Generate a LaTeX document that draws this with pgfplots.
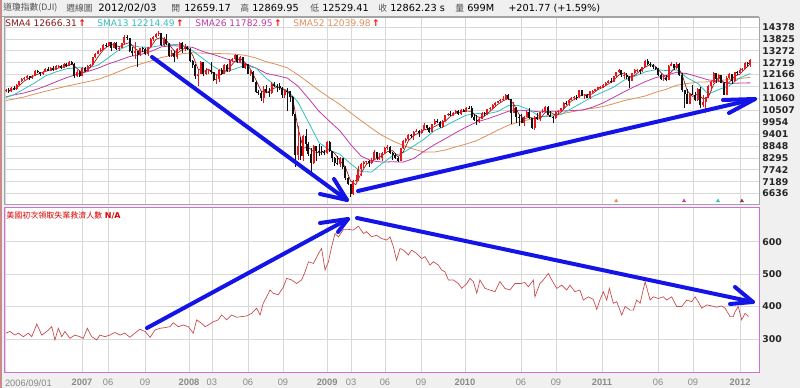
\documentclass[border=0pt]{standalone}
\usepackage{pgfplots}
\usepackage{pgfplotstable}
\pgfplotsset{compat=1.18}
\usepackage{fontspec}
\setmainfont{DejaVu Sans}
\newfontfamily\cjk{Noto Sans CJK TC}
\newfontfamily\lib{Liberation Sans}
\definecolor{bggray}{HTML}{F0F0F0}
\definecolor{gridc}{HTML}{D8D8D8}
\definecolor{upperb}{HTML}{A4A4A4}
\definecolor{lowerb}{HTML}{D070D0}
\definecolor{upc}{HTML}{E8161B}
\definecolor{dnc}{HTML}{111111}
\definecolor{sma4c}{HTML}{8B1A1A}
\definecolor{sma13c}{HTML}{33BFBF}
\definecolor{sma26c}{HTML}{C03CA8}
\definecolor{sma52c}{HTML}{E0905A}
\definecolor{claimc}{HTML}{C8484A}
\definecolor{arrowc}{HTML}{1414E6}
\definecolor{ticklab}{HTML}{8A8A8A}
\definecolor{hdrgray}{HTML}{505050}

\pgfplotstableread{
i o h l c
0 11381 11520 11340 11464
1 11464 11530 11320 11393
2 11393 11610 11360 11560
3 11560 11620 11450 11508
4 11508 11730 11470 11679
5 11679 11880 11650 11851
6 11851 12010 11820 11961
7 11961 12060 11900 12002
8 12002 12160 11960 12090
9 12090 12120 11930 11986
10 11986 12150 11950 12108
11 12108 12360 12090 12342
12 12342 12380 12240 12280
13 12280 12300 12090 12194
14 12194 12340 12150 12307
15 12307 12480 12280 12445
16 12445 12510 12320 12343
17 12343 12510 12330 12463
18 12463 12580 12340 12398
19 12398 12600 12370 12556
20 12556 12620 12480 12565
21 12565 12630 12440 12487
22 12487 12690 12450 12653
23 12653 12700 12530 12580
24 12580 12800 12550 12768
25 12768 12790 12590 12647
26 12647 12700 12030 12114
27 12114 12380 12050 12277
28 12277 12320 12070 12111
29 12111 12520 12090 12481
30 12481 12520 12300 12354
31 12354 12590 12330 12560
32 12560 12650 12480 12612
33 12612 12990 12590 12962
34 12962 13160 12930 13121
35 13121 13290 13100 13265
36 13265 13400 13210 13327
37 13327 13580 13300 13556
38 13556 13630 13470 13508
39 13508 13690 13450 13668
40 13668 13690 13250 13424
41 13424 13700 13380 13640
42 13640 13680 13320 13361
43 13361 13460 13250 13409
44 13409 13650 13380 13612
45 13612 14000 13590 13907
46 13907 14020 13780 13851
47 13851 13880 13230 13266
48 13266 13470 13050 13182
49 13182 13660 12900 13240
50 13240 13280 12520 13079
51 13079 13400 13040 13379
52 13379 13450 13200 13358
53 13358 13420 13080 13114
54 13114 13460 13050 13442
55 13442 13870 13420 13821
56 13821 13940 13750 13896
57 13896 14090 13860 14066
58 14066 14170 13980 14093
59 14093 14100 13500 13522
60 13522 13900 13450 13807
61 13807 14040 13550 13595
62 13595 13640 12990 13043
63 13043 13300 12990 13177
64 13177 13250 12740 12981
65 12981 13400 12890 13372
66 13372 13700 13290 13625
67 13625 13660 13170 13340
68 13340 13590 13260 13450
69 13450 13500 13310 13366
70 13366 13380 12770 12800
71 12800 12850 12490 12606
72 12606 12660 11960 12099
73 12099 12420 11630 12207
74 12207 12800 12180 12743
75 12743 12750 12080 12183
76 12183 12450 12130 12348
77 12348 12440 12180 12381
78 12381 12760 12200 12266
79 12266 12300 11870 11894
80 11894 12180 11750 11951
81 11951 12410 11810 12361
82 12361 12480 12150 12216
83 12216 12650 12180 12610
84 12610 12640 12290 12325
85 12325 12900 12280 12849
86 12849 12950 12760 12891
87 12891 13140 12830 13058
88 13058 13060 12700 12745
89 12745 13030 12710 12986
90 12986 13000 12450 12479
91 12479 12700 12440 12638
92 12638 12660 12180 12210
93 12210 12360 12120 12307
94 12307 12320 11800 11843
95 11843 11860 11330 11347
96 11347 11470 11210 11288
97 11288 11420 10960 11100
98 11100 11630 10830 11496
99 11496 11700 11320 11370
100 11370 11540 11130 11326
101 11326 11810 11280 11734
102 11734 11800 11580 11659
103 11659 11730 11340 11628
104 11628 11790 11450 11543
105 11543 11590 11100 11220
106 11220 11500 11070 11421
107 11421 11530 10460 11388
108 11388 11400 10900 11143
109 11143 11150 10250 10325
110 10325 10330 7880 8451
111 8451 9800 8200 8852
112 8852 9280 8200 8378
113 8378 9380 8170 9325
114 9325 9660 8630 8943
115 8943 9050 8400 8497
116 8497 8760 7450 8046
117 8046 8900 7990 8829
118 8829 8850 8150 8635
119 8635 8920 8400 8630
120 8630 8850 8450 8579
121 8579 8660 8420 8515
122 8515 9070 8480 9034
123 9034 9090 8560 8599
124 8599 8620 8090 8281
125 8281 8340 7910 8077
126 8077 8370 7950 8000
127 8000 8330 7880 8280
128 8280 8290 7800 7850
129 7850 7900 7250 7366
130 7366 7400 7040 7062
131 7062 7070 6470 6627
132 6627 7280 6570 7224
133 7224 7520 7170 7278
134 7278 7930 7240 7776
135 7776 8080 7470 8018
136 8018 8130 7840 8083
137 8083 8170 7960 8131
138 8131 8180 7850 8076
139 8076 8290 7990 8212
140 8212 8650 8190 8575
141 8575 8590 8200 8268
142 8268 8510 8210 8277
143 8277 8560 8160 8500
144 8500 8800 8480 8764
145 8764 8880 8650 8799
146 8799 8830 8490 8539
147 8539 8560 8220 8438
148 8438 8530 8250 8280
149 8280 8330 8090 8146
150 8146 8770 8130 8743
151 8743 9120 8720 9093
152 9093 9200 8990 9172
153 9172 9400 9150 9370
154 9370 9400 9200 9321
155 9321 9550 9140 9506
156 9506 9620 9480 9544
157 9544 9600 9250 9441
158 9441 9640 9400 9605
159 9605 9900 9590 9820
160 9820 9830 9600 9665
161 9665 9730 9440 9488
162 9488 9890 9480 9865
163 9865 10100 9840 9996
164 9996 10120 9900 9972
165 9972 10000 9680 9713
166 9713 10050 9690 10023
167 10023 10290 10010 10270
168 10270 10400 10260 10318
169 10318 10480 10230 10310
170 10310 10420 10240 10389
171 10389 10520 10350 10472
172 10472 10520 10270 10329
173 10329 10550 10310 10521
174 10521 10580 10420 10428
175 10428 10640 10420 10618
176 10618 10730 10560 10610
177 10610 10720 10170 10173
178 10173 10320 10030 10067
179 10067 10270 9830 10012
180 10012 10180 9920 10099
181 10099 10420 10090 10402
182 10402 10430 10230 10325
183 10325 10590 10300 10567
184 10567 10660 10520 10625
185 10625 10780 10590 10742
186 10742 10900 10720 10851
187 10851 10960 10840 10927
188 10927 11040 10890 10997
189 10997 11150 10960 11019
190 11019 11260 11000 11204
191 11204 11260 10980 11009
192 11009 11010 9870 10380
193 10380 10890 10370 10620
194 10620 10670 9920 10193
195 10193 10300 9760 10137
196 10137 10350 9900 9931
197 9931 10240 9760 10212
198 10212 10490 10190 10450
199 10450 10600 10110 10144
200 10144 10160 9650 9686
201 9686 10230 9610 10198
202 10198 10400 10070 10097
203 10097 10450 9990 10425
204 10425 10590 10380 10466
205 10466 10720 10420 10653
206 10653 10700 10270 10303
207 10303 10470 10200 10213
208 10213 10260 9940 10150
209 10150 10460 10090 10448
210 10448 10500 10310 10462
211 10462 10630 10440 10608
212 10608 10890 10580 10860
213 10860 10950 10760 10829
214 10829 11030 10730 11006
215 11006 11120 10980 11063
216 11063 11160 10980 11133
217 11133 11200 10990 11118
218 11118 11450 11100 11444
219 11444 11450 11160 11192
220 11192 11260 11010 11204
221 11204 11260 11070 11092
222 11092 11400 11050 11382
223 11382 11460 11330 11410
224 11410 11520 11370 11492
225 11492 11590 11470 11573
226 11573 11620 11540 11578
227 11578 11740 11560 11675
228 11675 11800 11630 11787
229 11787 11920 11770 11872
230 11872 12010 11770 11824
231 11824 12110 11810 12092
232 12092 12290 12070 12273
233 12273 12410 12260 12391
234 12391 12400 12050 12130
235 12130 12290 11980 12170
236 12170 12260 11950 12044
237 12044 12080 11560 11859
238 11859 12260 11850 12221
239 12221 12420 12180 12377
240 12377 12440 12290 12380
241 12380 12430 12180 12342
242 12342 12540 12270 12506
243 12506 12830 12500 12811
244 12811 12880 12590 12638
245 12638 12740 12500 12596
246 12596 12670 12420 12512
247 12512 12540 12380 12442
248 12442 12490 12120 12151
249 12151 12190 11930 11952
250 11952 12100 11860 12004
251 12004 12140 11860 11934
252 11934 12600 11930 12582
253 12582 12750 12560 12657
254 12657 12670 12380 12480
255 12480 12750 12440 12681
256 12681 12690 12100 12143
257 12143 12220 11380 11445
258 11445 11450 10600 11269
259 11269 11500 10790 10818
260 10818 11300 10880 11285
261 11285 11700 11220 11240
262 11240 11380 10950 10992
263 10992 11550 10930 11509
264 11509 11580 10600 10772
265 10772 11200 10680 10913
266 10913 11140 10360 11103
267 11103 11660 11080 11644
268 11644 11850 11400 11809
269 11809 12290 11760 12231
270 12231 12230 11760 11983
271 11983 12190 11810 12153
272 12153 12170 11760 11796
273 11796 11800 11230 11231
274 11231 12090 11200 12019
275 12019 12260 11980 12184
276 12184 12200 11730 11867
277 11867 12310 11840 12294
278 12294 12330 12130 12218
279 12218 12480 12190 12360
280 12360 12480 12330 12422
281 12422 12740 12410 12720
282 12720 12760 12560 12660
283 12659 12870 12529 12862
}\candles

\pgfplotsset{
  chartbase/.style={
    scale only axis, width=566.25pt,
    xmin=-0.76, xmax=286.3,
    axis background/.style={fill=white},
    major tick length=0pt,
    grid=major, major grid style={draw=gridc, line width=0.5pt},
    yticklabel pos=right,
    scaled y ticks=false,
    /pgf/number format/1000 sep={},
    /pgf/number format/assume math mode=true,
    yticklabel style={font=\fontsize{7}{8}\selectfont\bfseries, text=black!85, inner sep=0pt, xshift=2.4pt},
    xtick={-0.38,28.9,38.8,52.9,69.6,78.3,92.0,105.3,122.1,131.2,144.1,157.8,174.5,195.8,209.1,226.6,247.9,261.2,279.1},
  },
  candle/.style 2 args={draw=none, mark=none, forget plot,
    error bars/.cd, y dir=both, y explicit, error mark=none,
    error bar style={draw=#1, line width=#2, solid, line cap=butt}},
}

\begin{document}
\begin{tikzpicture}[x=0.75pt,y=0.75pt]
\useasboundingbox (0,0) rectangle (800,388);
\fill[bggray] (0,0) rectangle (800,388);
\draw[upperb, line width=0.75pt] (0,371) -- (759,371);
\draw[color={rgb,255:red,200;green,140;blue,140}, line width=1.5pt] (1,0) -- (1,388);

% ---------- upper panel ----------
\begin{axis}[chartbase, at={(3pt,138pt)}, anchor=south west, height=140.25pt,
  ymin=6153, ymax=14843,
  ytick={6636,7189,7742,8295,8848,9401,9954,10507,11060,11613,12166,12719,13272,13825,14378},
  xticklabels={{},{},{},{},{},{},{},{},{},{},{},{},{},{},{},{},{},{},{}},
  axis line style={draw=upperb, line width=0.6pt},
]
\addplot[sma52c, line width=0.6pt, mark=none] coordinates {
(0,10960)(3,11030)(7,11130)(11,11267)(15,11390)(19,11510)(23,11627)(27,11730)(31,11835)(35,11945)(39,12120)(43,12315)(47,12514)(51,12652)(55,12802)(59,12958)(63,13055)(67,13134)(71,13182)(75,13161)(79,13144)(83,13137)(87,13120)(91,13059)(95,12941)(99,12761)(103,12635)(107,12478)(111,12155)(115,11799)(119,11430)(123,11094)(127,10775)(131,10391)(135,10028)(139,9670)(143,9339)(147,9086)(151,8874)(155,8702)(159,8564)(163,8569)(167,8662)(171,8803)(175,8941)(179,9099)(183,9339)(187,9586)(191,9812)(195,9960)(199,10079)(203,10197)(207,10279)(211,10342)(215,10433)(219,10527)(223,10597)(227,10682)(231,10811)(235,10957)(239,11060)(243,11171)(247,11342)(251,11482)(255,11674)(259,11752)(263,11816)(267,11830)(271,11893)(275,11934)(279,11981)(283,12040)};
\addplot[sma26c, line width=0.6pt, mark=none] coordinates {
(0,11130)(3,11223)(7,11315)(11,11458)(15,11628)(19,11833)(23,12022)(27,12179)(31,12307)(35,12467)(39,12664)(43,12829)(47,13003)(51,13096)(55,13236)(59,13453)(63,13512)(67,13486)(71,13428)(75,13235)(79,13093)(83,12929)(87,12769)(91,12670)(95,12470)(99,12221)(103,12118)(107,12000)(111,11629)(115,11059)(119,10462)(123,9998)(127,9548)(131,8925)(135,8379)(139,8155)(143,8101)(147,8115)(151,8099)(155,8268)(159,8607)(163,8918)(167,9185)(171,9466)(175,9729)(179,9965)(183,10109)(187,10278)(191,10464)(195,10512)(199,10485)(203,10432)(207,10460)(211,10470)(215,10492)(219,10515)(223,10649)(227,10849)(231,11105)(235,11366)(239,11610)(243,11835)(247,12024)(251,12129)(255,12275)(259,12207)(263,12067)(267,11921)(271,11855)(275,11749)(279,11774)(283,11783)};
\addplot[sma13c, line width=0.6pt, mark=none] coordinates {
(0,11107)(3,11227)(7,11507)(11,11787)(15,12104)(19,12293)(23,12439)(27,12488)(31,12466)(35,12606)(39,12960)(43,13321)(47,13544)(51,13446)(55,13438)(59,13516)(63,13578)(67,13543)(71,13264)(75,12898)(79,12529)(83,12272)(87,12429)(91,12592)(95,12473)(99,11984)(103,11609)(107,11431)(111,10891)(115,9957)(119,9005)(123,8668)(127,8459)(131,8023)(135,7653)(139,7642)(143,8035)(147,8389)(151,8535)(155,8848)(159,9170)(163,9566)(167,9784)(171,10040)(175,10280)(179,10354)(183,10346)(187,10450)(191,10731)(195,10725)(199,10525)(203,10206)(207,10232)(211,10309)(215,10588)(219,10859)(223,11144)(227,11358)(231,11582)(235,11905)(239,12087)(243,12292)(247,12394)(251,12356)(255,12386)(259,12010)(263,11758)(267,11261)(271,11470)(275,11653)(279,12012)(283,12214)};
\addplot[sma4c, line width=0.5pt, mark=none] coordinates {
(1,11380)(3,11481)(5,11650)(7,11873)(9,12010)(11,12132)(13,12231)(15,12307)(17,12390)(19,12440)(21,12502)(23,12571)(25,12662)(27,12452)(29,12246)(31,12377)(33,12622)(35,12990)(37,13317)(39,13515)(41,13560)(43,13459)(45,13572)(47,13659)(49,13385)(51,13220)(53,13233)(55,13434)(57,13806)(59,13894)(61,13754)(63,13406)(65,13143)(67,13330)(69,13445)(71,13056)(73,12428)(75,12308)(77,12414)(79,12222)(81,12118)(83,12285)(85,12500)(87,12781)(89,12920)(91,12712)(93,12409)(95,11927)(97,11395)(99,11314)(101,11482)(103,11587)(105,11513)(107,11393)(109,11069)(111,9693)(113,8752)(115,8786)(117,8579)(119,8535)(121,8590)(123,8682)(125,8498)(127,8160)(129,7874)(131,7226)(133,7048)(135,7574)(137,8002)(139,8126)(141,8283)(143,8405)(145,8585)(147,8635)(149,8351)(151,8566)(153,9095)(155,9342)(157,9453)(159,9603)(161,9645)(163,9754)(165,9887)(167,9995)(169,10230)(171,10372)(173,10428)(175,10474)(177,10457)(179,10216)(181,10145)(183,10348)(185,10565)(187,10786)(189,10949)(191,11057)(193,10803)(195,10333)(197,10118)(199,10184)(201,10120)(203,10102)(205,10410)(207,10409)(209,10279)(211,10417)(213,10690)(215,10940)(217,11080)(219,11222)(221,11233)(223,11272)(225,11464)(227,11580)(229,11728)(231,11894)(233,12145)(235,12241)(237,12051)(239,12125)(241,12330)(243,12510)(245,12638)(247,12547)(249,12264)(251,12010)(253,12294)(255,12600)(257,12187)(259,11419)(261,11153)(263,11257)(265,11047)(267,11108)(269,11697)(271,12044)(273,11791)(275,11808)(277,12091)(279,12185)(281,12430)(283,12666)};
% wicks: rising weeks red, falling weeks black (zero length when not matching)
\addplot[candle={upc}{0.45pt}]
  table[x=i, y=l, y error plus expr={(\thisrow{c}>=\thisrow{o})*(\thisrow{h}-\thisrow{l})}, y error minus expr={0}] {\candles};
\addplot[candle={dnc}{0.45pt}]
  table[x=i, y=l, y error plus expr={(\thisrow{c}<\thisrow{o})*(\thisrow{h}-\thisrow{l})}, y error minus expr={0}] {\candles};
% bodies
\addplot[candle={upc}{1.5pt}]
  table[x=i, y=o, y error plus expr={max(\thisrow{c}-\thisrow{o},0)}, y error minus expr={0}] {\candles};
\addplot[candle={dnc}{1.5pt}]
  table[x=i, y=o, y error plus expr={0}, y error minus expr={max(\thisrow{o}-\thisrow{c},0)}] {\candles};
% crossover signals
\addplot[only marks, mark=triangle*, mark size=1.4pt, color=sma52c] coordinates {(232,6290)};
\addplot[only marks, mark=triangle*, mark size=1.4pt, color=sma26c] coordinates {(257.8,6290)};
\addplot[only marks, mark=triangle*, mark size=1.4pt, color=sma13c] coordinates {(270.7,6290)};
\addplot[only marks, mark=triangle*, mark size=1.4pt, color=sma4c!70!gray] coordinates {(279.8,6290)};
\end{axis}

% ---------- lower panel ----------
\begin{axis}[chartbase, at={(3pt,11.25pt)}, anchor=south west, height=123.75pt,
  ymin=195, ymax=704,
  ytick={300,400,500,600},
  axis line style={draw=lowerb, line width=0.75pt},
  xticklabels={\makebox[0pt][l]{2006/09/01},\textbf{2007},06,09,\textbf{2008},03,06,09,\textbf{2009},03,06,09,\textbf{2010},06,09,\textbf{2011},06,09,\textbf{2012}},
  xticklabel style={font=\lib\fontsize{7}{8}\selectfont, text=ticklab, inner sep=0pt, yshift=-4.6pt},
]
\addplot[claimc, line width=0.5pt, mark=none] coordinates {
(0,318)(1.5,323)(3.4,312)(4.7,318)(6.6,307)(8.5,318)(9.8,307)(11.7,346)(13.6,312)(15.5,323)(17.4,338)(18.6,297)(19.9,333)(21.2,307)(22.4,323)(24.3,302)(26.2,312)(28.1,307)(29.4,302)(30.9,333)(32.6,307)(34.5,297)(35.7,312)(37.6,307)(39.5,312)(41.4,320)(43.3,312)(45.2,318)(47.1,305)(49.0,318)(50.9,330)(52.9,323)(54.8,305)(56.7,328)(58.6,333)(60.5,335)(62.4,338)(63.6,350)(65.5,338)(67.4,343)(69.3,338)(71.2,318)(72.5,359)(74.4,348)(75.7,338)(76.9,343)(78.8,353)(80.7,359)(82.0,374)(83.9,359)(85.8,374)(87.7,367)(89.6,369)(91.5,371)(93.4,379)(95.3,395)(96.6,374)(97.8,410)(99.1,430)(100.4,451)(101.6,441)(103.5,436)(105.4,459)(106.7,487)(108.6,482)(110.5,471)(112.4,482)(113.7,507)(115.0,538)(116.9,533)(118.8,564)(120.0,579)(121.3,513)(122.6,538)(123.8,584)(125.1,625)(126.4,615)(128.3,638)(130.2,638)(132.1,636)(134.0,648)(135.9,625)(137.1,631)(139.0,615)(140.9,620)(142.8,610)(144.7,605)(146.0,615)(147.3,584)(148.5,543)(149.8,579)(151.1,574)(153.0,559)(154.2,574)(156.1,564)(158.0,548)(159.3,554)(161.2,528)(162.5,538)(164.4,528)(165.6,513)(166.9,507)(168.2,482)(170.1,482)(172.0,471)(173.3,456)(175.2,471)(176.4,487)(177.7,477)(179.0,441)(180.2,482)(182.1,456)(184.0,451)(185.9,446)(187.8,477)(189.7,456)(191.6,451)(193.5,471)(195.4,471)(197.3,474)(198.6,461)(200.5,482)(201.1,430)(203.0,471)(204.3,482)(206.2,502)(207.5,482)(209.4,456)(211.3,466)(213.2,451)(214.4,466)(216.3,446)(218.2,451)(219.5,420)(221.4,430)(223.3,422)(224.6,391)(225.8,420)(227.1,446)(228.4,420)(229.4,456)(230.9,410)(232.2,415)(234.1,374)(235.4,400)(237.3,389)(238.5,389)(239.8,420)(241.1,410)(243.0,477)(244.9,420)(246.1,430)(248.0,425)(249.9,430)(251.2,420)(253.1,430)(255.0,400)(256.9,400)(258.8,420)(260.7,415)(262.0,430)(263.2,415)(264.5,395)(266.4,405)(268.3,402)(270.2,398)(272.1,402)(273.4,395)(275.3,369)(276.5,369)(277.2,384)(278.4,400)(279.7,359)(281.0,379)(282.3,369)};
\end{axis}

% ---------- header texts ----------
\begin{scope}[every node/.style={anchor=west, inner sep=0pt}]
\node[text=hdrgray, font=\cjk\fontsize{6.6}{7}\selectfont] at (3,380) {道瓊指數(DJI)};
\node[text=hdrgray, font=\cjk\fontsize{6.6}{7}\selectfont] at (66,380) {週線圖};
\node[font=\fontsize{7.6}{8}\selectfont] at (98,380) {2012/02/03};
\node[text=hdrgray, font=\cjk\fontsize{6.6}{7}\selectfont] at (171,380) {開};
\node[font=\fontsize{7.3}{8}\selectfont] at (184,380) {12659.17};
\node[text=hdrgray, font=\cjk\fontsize{6.6}{7}\selectfont] at (240,380) {高};
\node[font=\fontsize{7.3}{8}\selectfont] at (252,380) {12869.95};
\node[text=hdrgray, font=\cjk\fontsize{6.6}{7}\selectfont] at (310,380) {低};
\node[font=\fontsize{7.3}{8}\selectfont] at (322,380) {12529.41};
\node[text=hdrgray, font=\cjk\fontsize{6.6}{7}\selectfont] at (378,380) {收};
\node[font=\fontsize{7.3}{8}\selectfont] at (390,380) {12862.23 s};
\node[text=hdrgray, font=\cjk\fontsize{6.6}{7}\selectfont] at (455,380) {量};
\node[font=\fontsize{7.3}{8}\selectfont] at (467,380) {699M};
\node[font=\fontsize{7.3}{8}\selectfont] at (508,380) {+201.77 (+1.59\%)};
% legend row
\node[font=\fontsize{6.8}{7}\selectfont] at (5,365) {\textcolor{sma4c}{SMA4 12666.31}\,\textcolor{red}{\textbf{↑}}};
\node[font=\fontsize{6.8}{7}\selectfont] at (97,365) {\textcolor{sma13c}{SMA13 12214.49}\,\textcolor{red}{\textbf{↑}}};
\node[font=\fontsize{6.8}{7}\selectfont] at (195,365) {\textcolor{sma26c}{SMA26 11782.95}\,\textcolor{red}{\textbf{↑}}};
\node[font=\fontsize{6.8}{7}\selectfont] at (293,365) {\textcolor{sma52c}{SMA52 12039.98}\,\textcolor{red}{\textbf{↑}}};
% lower label
\node[text=red!85!black, font=\fontsize{6}{7}\selectfont] at (6,173) {{\cjk 美國初次領取失業救濟人數}\ \textbf{N/A}};
\end{scope}

% ---------- annotation arrows ----------
\begin{scope}[draw=arrowc, line width=3pt, line cap=round, line join=round]
\draw (152,331) -- (347,188);
\draw (320,194) -- (347,188) -- (334,209);
\draw (358,197) -- (755,289);
\draw (723,288) -- (755,289) -- (729,275);
\draw (147,60) -- (348,169);
\draw (320,165) -- (348,169) -- (338,156);
\draw (357,170) -- (753,86);
\draw (735,101) -- (753,86) -- (730,84);
\end{scope}
\end{tikzpicture}
\end{document}
